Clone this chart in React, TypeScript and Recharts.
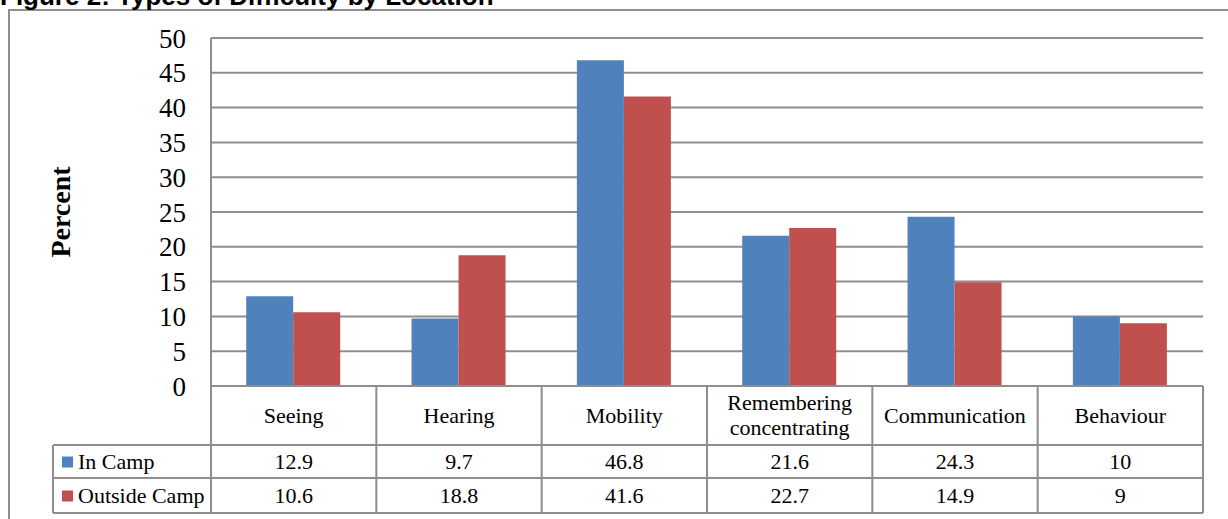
import { BarChart, Bar, XAxis, YAxis, CartesianGrid } from "recharts";

const categories = ["Seeing", "Hearing", "Mobility", "Remembering concentrating", "Communication", "Behaviour"];
const inCamp = [12.9, 9.7, 46.8, 21.6, 24.3, 10];
const outsideCamp = [10.6, 18.8, 41.6, 22.7, 14.9, 9];
const seriesNames = ["In Camp", "Outside Camp"];
const yTicks = [0, 5, 10, 15, 20, 25, 30, 35, 40, 45, 50];

const data = categories.map((name, i) => ({ name, inCamp: inCamp[i], outsideCamp: outsideCamp[i] }));
const rows = [inCamp, outsideCamp];
const colors = ["#4F81BD", "#C0504D"];

const W = 1228;
const H = 519;
const PLOT_LEFT = 211;
const PLOT_RIGHT = 1203;
const PLOT_TOP = 38;
const PLOT_BOTTOM = 386;
const ROW_Y = [386, 445, 478, 513];
const BAND = (PLOT_RIGHT - PLOT_LEFT) / categories.length;
const LEGEND_LEFT = 53;
const LINE = "#8e8e8e";
const SERIF = "'Liberation Serif', 'Times New Roman', serif";

function TableTick(props: any) {
  const { x, index, payload } = props;
  const left = x - BAND / 2;
  const right = x + BAND / 2;
  const lines: string[] = String(payload.value).split(" ");
  const headMid = (ROW_Y[0] + ROW_Y[1]) / 2;
  return (
    <g>
      {/* column borders */}
      <line x1={right} y1={ROW_Y[0]} x2={right} y2={ROW_Y[3]} stroke={LINE} strokeWidth={2} />
      {index === 0 && <line x1={left} y1={ROW_Y[0]} x2={left} y2={ROW_Y[3]} stroke={LINE} strokeWidth={2} />}
      {ROW_Y.slice(1).map((yy) => (
        <line key={yy} x1={left} y1={yy} x2={right} y2={yy} stroke={LINE} strokeWidth={2} />
      ))}
      {lines.map((t, k) => (
        <text
          key={t}
          x={x}
          y={headMid + 7 + (k - (lines.length - 1) / 2) * 25}
          textAnchor="middle"
          fontFamily={SERIF}
          fontSize={22}
          fill="#000"
        >
          {t}
        </text>
      ))}
      {rows.map((r, k) => (
        <text
          key={k}
          x={x}
          y={(ROW_Y[k + 1] + ROW_Y[k + 2]) / 2 + 7}
          textAnchor="middle"
          fontFamily={SERIF}
          fontSize={22}
          fill="#000"
        >
          {r[index]}
        </text>
      ))}
      {index === 0 && (
        <g>
          <line x1={LEGEND_LEFT} y1={ROW_Y[1]} x2={left} y2={ROW_Y[1]} stroke={LINE} strokeWidth={2} />
          <line x1={LEGEND_LEFT} y1={ROW_Y[2]} x2={left} y2={ROW_Y[2]} stroke={LINE} strokeWidth={2} />
          <line x1={LEGEND_LEFT} y1={ROW_Y[3]} x2={left} y2={ROW_Y[3]} stroke={LINE} strokeWidth={2} />
          <line x1={LEGEND_LEFT} y1={ROW_Y[1]} x2={LEGEND_LEFT} y2={ROW_Y[3]} stroke={LINE} strokeWidth={2} />
          {seriesNames.map((s, k) => {
            const mid = (ROW_Y[k + 1] + ROW_Y[k + 2]) / 2;
            return (
              <g key={s}>
                <rect x={62} y={mid - 5} width={11} height={11} fill={colors[k]} />
                <text x={78} y={mid + 7} fontFamily={SERIF} fontSize={22} fill="#000">
                  {s}
                </text>
              </g>
            );
          })}
        </g>
      )}
    </g>
  );
}

export default function App() {
  return (
    <div style={{ position: "absolute", left: 0, top: 0, width: W, height: H, overflow: "hidden", background: "#fff" }}>
      <BarChart
        width={W}
        height={H}
        data={data}
        margin={{ top: PLOT_TOP, right: W - PLOT_RIGHT, left: 0, bottom: 0 }}
        barCategoryGap="21.3%"
        barGap={0}
      >
        <CartesianGrid vertical={false} stroke={LINE} strokeWidth={2} />
        <XAxis
          dataKey="name"
          height={H - PLOT_BOTTOM}
          axisLine={{ stroke: LINE, strokeWidth: 2 }}
          tickLine={false}
          tickSize={0}
          interval={0}
          tick={<TableTick />}
        />
        <YAxis
          width={PLOT_LEFT}
          domain={[0, 50]}
          ticks={yTicks}
          interval={0}
          axisLine={{ stroke: LINE, strokeWidth: 2 }}
          tickLine={false}
          tickSize={0}
          tickMargin={25}
          tick={{ fontFamily: SERIF, fontSize: 27, fill: "#000" }}
        />
        <Bar dataKey="inCamp" name={seriesNames[0]} fill={colors[0]} isAnimationActive={false} />
        <Bar dataKey="outsideCamp" name={seriesNames[1]} fill={colors[1]} isAnimationActive={false} />
      </BarChart>
      <svg width={W} height={H} style={{ position: "absolute", left: 0, top: 0, pointerEvents: "none" }}>
        <rect x={9} y={10} width={W + 20} height={H + 20} fill="none" stroke={LINE} strokeWidth={2} />
        <line x1={PLOT_LEFT} y1={PLOT_BOTTOM} x2={PLOT_LEFT} y2={ROW_Y[3]} stroke={LINE} strokeWidth={2} />
        <text
          x={0}
          y={5}
          fontFamily="'Liberation Sans', Arial, sans-serif"
          fontWeight="bold"
          fontSize={26}
          fill="#000"
        >
          Figure 2: Types of Difficulty by Location
        </text>
        <text
          transform="translate(70, 212) rotate(-90)"
          textAnchor="middle"
          fontFamily={SERIF}
          fontWeight="bold"
          fontSize={28}
          fill="#000"
        >
          Percent
        </text>
      </svg>
    </div>
  );
}
